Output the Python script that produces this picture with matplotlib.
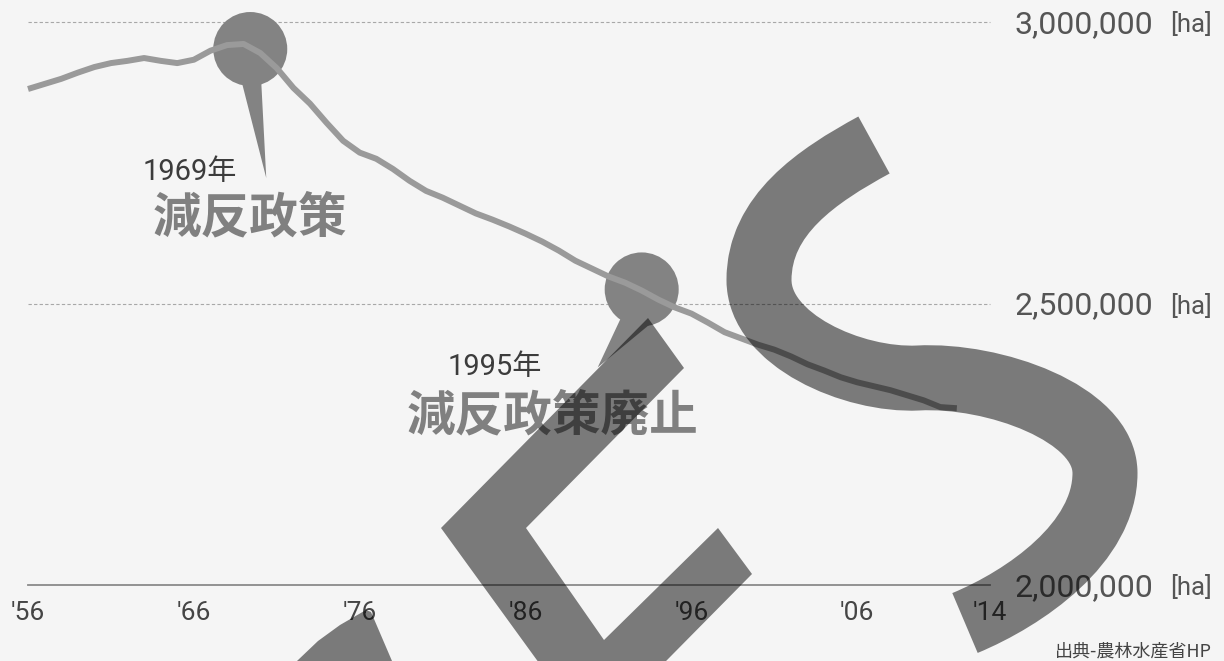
import matplotlib
matplotlib.use("Agg")
import matplotlib.pyplot as plt
from matplotlib.patches import Circle, Polygon, PathPatch
from matplotlib.path import Path
from matplotlib.transforms import Affine2D, ScaledTranslation

# ---------------- data ----------------
years = list(range(1956, 2013))
area_ha = [
    2881000, 2890000, 2899000, 2910000, 2920000, 2927000, 2931000, 2936000, 2931000, 2927000,
    2933000, 2949000, 2959000, 2961000, 2945000, 2918000, 2883000, 2855000, 2821000, 2789000,
    2768000, 2757000, 2739000, 2718000, 2700000, 2688000, 2674000, 2660000, 2649000, 2637000,
    2624000, 2610000, 2594000, 2576000, 2562000, 2548000, 2537000, 2523000, 2507000, 2493000,
    2482000, 2466000, 2449000, 2438000, 2427000, 2418000, 2406000, 2392000, 2381000, 2369000,
    2360000, 2353000, 2346000, 2337000, 2328000, 2316000, 2314000,
]
tick_years = [1956, 1966, 1976, 1986, 1996, 2006, 2014]
tick_labels = ["'56", "'66", "'76", "'86", "'96", "'06", "'14"]
y_levels = [3000000, 2500000, 2000000]
y_unit = "[ha]"
event_years = ["1969年", "1995年"]
event_names = ["減反政策", "減反政策廃止"]
event_pin_x = [1969.4, 1993.0]
event_pin_y = [2952000, 2525000]
source_text = "出典-農林水産省HP"

# ---------------- figure ----------------
W, H, DPI = 1224, 661, 100
BG = "#f5f5f5"
fig = plt.figure(figsize=(W / DPI, H / DPI), dpi=DPI, facecolor=BG)
ax = fig.add_axes([28 / W, 76 / H, 962 / W, 563 / H])
ax.set_facecolor("none")
ax.set_xlim(1956, 2014)
ax.set_ylim(2000000, 3000000)
for s in ax.spines.values():
    s.set_visible(False)
ax.set_yticks([])

NUM_FONT = ["Roboto", "Noto Sans CJK JP", "DejaVu Sans"]
JP_FONT = ["Noto Sans CJK JP", "DejaVu Sans"]

# grid lines
ax.axhline(y_levels[0], color="#a8a8a8", lw=0.8, ls=(0, (3, 2)), clip_on=False, zorder=1)
ax.axhline(y_levels[1], color="#a8a8a8", lw=0.8, ls=(0, (3, 2)), clip_on=False, zorder=1)
ax.axhline(y_levels[2], color="#8a8a8a", lw=1.3, clip_on=False, zorder=1)

# x tick labels
ax.set_xticks(tick_years)
ax.set_xticklabels(tick_labels)
ax.tick_params(axis="x", length=0, pad=11.5, labelsize=19, labelcolor="#454545")
for t in ax.get_xticklabels():
    t.set_fontfamily(NUM_FONT)
    t.set_fontweight("normal")

# right-hand value labels
ytrans = ax.get_yaxis_transform()
for v in y_levels:
    ax.annotate(f"{v:,}", xy=(1, v), xycoords=ytrans, xytext=(25, -11),
                textcoords="offset pixels", ha="left", va="baseline",
                fontsize=23, color="#555555", family=NUM_FONT, weight="normal",
                annotation_clip=False)
    ax.annotate(y_unit, xy=(1, v), xycoords=ytrans, xytext=(222, -10),
                textcoords="offset pixels", ha="right", va="baseline",
                fontsize=18.5, color="#555555", family=NUM_FONT, weight="normal",
                annotation_clip=False)

# pins (circle + pointer), sizes in pixels
PIN_COLOR = "#838383"
pin_radius = [37, 37]
pin_tail = [
    [(-8, -35), (11, -33), (16, -129)],
    [(-21, -29), (8, -35), (-44, -78)],
]
text_offsets_year = [(-108, -131), (-194, -86)]
text_offsets_name = [(-98, -183), (-235, -141)]
for i in range(2):
    tr = Affine2D() + ScaledTranslation(event_pin_x[i], event_pin_y[i], ax.transData)
    ax.add_patch(Circle((0, 0), pin_radius[i], transform=tr, color=PIN_COLOR,
                        lw=0, clip_on=False, zorder=2))
    ax.add_patch(Polygon(pin_tail[i], closed=True, transform=tr, color=PIN_COLOR,
                         lw=0, clip_on=False, zorder=2))
    ax.annotate(event_years[i], xy=(event_pin_x[i], event_pin_y[i]),
                xytext=text_offsets_year[i], textcoords="offset pixels",
                ha="left", va="baseline", fontsize=21, color="#3c3c3c",
                family=NUM_FONT, weight="normal", annotation_clip=False, zorder=4)
    ax.annotate(event_names[i], xy=(event_pin_x[i], event_pin_y[i]),
                xytext=text_offsets_name[i], textcoords="offset pixels",
                ha="left", va="baseline", fontsize=35, color="#808080",
                family=JP_FONT, weight="bold", annotation_clip=False, zorder=4)

# main line
ax.plot(years, area_ha, color="#9a9a9a", lw=4.3, solid_capstyle="butt",
        solid_joinstyle="round", zorder=3, clip_on=False)

# source
fig.text(1212 / W, (H - 656) / H, source_text, ha="right", va="baseline",
         fontsize=13, color="#444444", family=JP_FONT)

# ---------------- semi-transparent watermark overlay (image pixel coords) ----------------
wm_tr = Affine2D().scale(fig.dpi / 100, -fig.dpi / 100).translate(0, fig.bbox.height)
WM_COLOR = (0, 0, 0, 0.5)
zigzag = [(648, 318), (441, 528), (592, 736), (752, 574), (718, 528),
          (604, 640), (526, 528), (684, 368)]
fig.add_artist(Polygon(zigzag, closed=True, transform=wm_tr, facecolor=WM_COLOR,
                       lw=0, zorder=10))
wedge = [(297, 661), (318, 641), (340, 625), (366, 610), (371, 612), (395, 668), (290, 668)]
fig.add_artist(Polygon(wedge, closed=True, transform=wm_tr, facecolor=WM_COLOR,
                       lw=0, zorder=10))
s_verts = [(874, 145), (817, 176), (759, 215), (759, 280),
           (759, 340), (853, 381), (918, 378),
           (993, 374), (1105, 413), (1105, 473),
           (1105, 543), (1025, 598), (965, 623)]
s_codes = [Path.MOVETO] + [Path.CURVE4] * 12
fig.add_artist(PathPatch(Path(s_verts, s_codes), transform=wm_tr, facecolor="none",
                         edgecolor=WM_COLOR, lw=65 * 72 / 100, capstyle="butt",
                         joinstyle="round", zorder=10))

fig.savefig("out.png", dpi=DPI, facecolor=BG)
